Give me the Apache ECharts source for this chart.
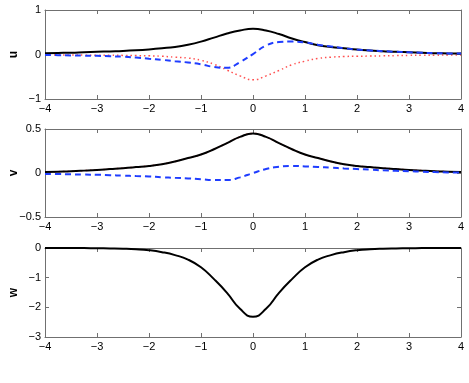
<!DOCTYPE html>
<html>
<head>
<meta charset="utf-8">
<script src="https://cdn.jsdelivr.net/npm/echarts@6/dist/echarts.min.js"></script>
<style>html,body{margin:0;padding:0;background:#fff}#c{width:469px;height:383px}</style>
</head>
<body>
<div id="c"></div>
<script>
const xs = [-4,-3.75,-3.5,-3.25,-3,-2.75,-2.5,-2.25,-2,-1.75,-1.5,-1.25,-1,-0.75,-0.5,-0.25,0,0.25,0.5,0.75,1,1.25,1.5,1.75,2,2.25,2.5,2.75,3,3.25,3.5,3.75,4];
const uSolid = [0.03,0.035,0.04,0.05,0.06,0.07,0.08,0.095,0.115,0.14,0.17,0.22,0.29,0.38,0.47,0.54,0.58,0.54,0.46,0.36,0.28,0.21,0.17,0.14,0.11,0.09,0.075,0.06,0.05,0.04,0.03,0.025,0.02];
const uDashed = [-0.01,-0.015,-0.02,-0.025,-0.03,-0.04,-0.05,-0.07,-0.095,-0.12,-0.15,-0.18,-0.22,-0.28,-0.30,-0.17,0.01,0.20,0.28,0.29,0.27,0.22,0.18,0.14,0.11,0.09,0.075,0.06,0.05,0.04,0.03,0.025,0.02];
const uDotted = [-0.01,-0.01,-0.012,-0.014,-0.016,-0.018,-0.02,-0.025,-0.03,-0.04,-0.06,-0.08,-0.13,-0.22,-0.35,-0.48,-0.57,-0.48,-0.36,-0.23,-0.15,-0.09,-0.06,-0.045,-0.04,-0.035,-0.03,-0.025,-0.02,-0.018,-0.015,-0.012,-0.01];
const vSolid = [0.01,0.015,0.02,0.027,0.035,0.045,0.055,0.067,0.08,0.10,0.13,0.17,0.21,0.27,0.34,0.41,0.45,0.41,0.34,0.27,0.21,0.17,0.13,0.10,0.08,0.067,0.055,0.045,0.035,0.027,0.02,0.015,0.01];
const vDotted = [0.01,0.015,0.02,0.027,0.035,0.045,0.055,0.067,0.08,0.10,0.13,0.17,0.21,0.27,0.34,0.41,0.45,0.41,0.34,0.27,0.21,0.17,0.13,0.10,0.08,0.067,0.055,0.045,0.035,0.027,0.02,0.015,0.01];
const vDashed = [-0.01,-0.012,-0.015,-0.018,-0.02,-0.025,-0.03,-0.035,-0.04,-0.048,-0.055,-0.062,-0.07,-0.08,-0.08,-0.05,0.0,0.045,0.07,0.08,0.075,0.068,0.06,0.052,0.045,0.038,0.03,0.025,0.02,0.015,0.01,0.007,0.005];
const wSolid = [0,-0.001,-0.002,-0.004,-0.007,-0.013,-0.022,-0.04,-0.075,-0.14,-0.24,-0.39,-0.65,-1.05,-1.51,-2.05,-2.32,-2.05,-1.51,-1.05,-0.65,-0.39,-0.24,-0.14,-0.075,-0.04,-0.022,-0.013,-0.007,-0.004,-0.002,-0.001,0];
const panelNames = ['u','v','w'];
const yRanges = [[-1,1,1],[-0.5,0.5,0.5],[-3,0,1]];

const pairs = ys => xs.map((x,i)=>[x,ys[i]]);
const fmt = v => String(v).replace('-', '\u2212');
const axisCol = '#707070';
const font = 'Liberation Sans, Arial, sans-serif';

const grids = [
  {left:45, right:8, top:10, height:89, outerBoundsMode:'none', containLabel:false},
  {left:45, right:8, top:129, height:88, outerBoundsMode:'none', containLabel:false},
  {left:45, right:8, top:248, height:89, outerBoundsMode:'none', containLabel:false}
];
const xAxis = [], yAxis = [], series = [];
grids.forEach((g,i)=>{
  const common = {type:'value', min:-4, max:4, interval:1, gridIndex:i, splitLine:{show:false},
    axisLine:{show:true, onZero:false, lineStyle:{color:axisCol, width:1}},
    axisTick:{show:true, inside:true, length:4, lineStyle:{color:axisCol}}};
  xAxis.push(Object.assign({}, common, {position:'bottom',
    axisLabel:{color:'#000', fontSize:11, fontFamily:font, margin:4, formatter:fmt}}));
  xAxis.push(Object.assign({}, common, {position:'top', axisLabel:{show:false}}));
  const [mn,mx,iv] = yRanges[i];
  const yc = {type:'value', min:mn, max:mx, interval:iv, gridIndex:i, splitLine:{show:false},
    axisLine:{show:true, onZero:false, lineStyle:{color:axisCol, width:1}},
    axisTick:{show:true, inside:true, length:4, lineStyle:{color:axisCol}}};
  yAxis.push(Object.assign({}, yc, {position:'left', name:panelNames[i], nameLocation:'middle', nameGap:25, nameRotate:90,
    nameMoveOverlap:false,
    nameTextStyle:{color:'#000', fontSize:12, fontWeight:'bold', fontFamily:font},
    axisLabel:{color:'#000', fontSize:11, fontFamily:font, margin:4, formatter:fmt}}));
  yAxis.push(Object.assign({}, yc, {position:'right', axisLabel:{show:false}}));
});
function line(data, gi, color, type, width){
  return {type:'line', xAxisIndex:gi*2, yAxisIndex:gi*2, data:pairs(data), smooth:0.5, showSymbol:false, symbol:'none',
    lineStyle:{color:color, width:width, type:type}, animation:false, silent:true};
}
series.push(line(uDotted,0,'#ff5050',[1.5,3],1.5));
series.push(line(uSolid,0,'#000000','solid',2));
series.push(line(uDashed,0,'#1f3dff',[6,4],2));
series.push(line(vDotted,1,'#ff5050',[1.5,3],1.5));
series.push(line(vSolid,1,'#000000','solid',2));
series.push(line(vDashed,1,'#1f3dff',[6,4],2));
series.push(line(wSolid,2,'#000000','solid',2));

const chart = echarts.init(document.getElementById('c'), null, {renderer:'canvas'});
chart.setOption({animation:false, backgroundColor:'#fff', grid:grids, xAxis:xAxis, yAxis:yAxis, series:series});
</script>
</body>
</html>
